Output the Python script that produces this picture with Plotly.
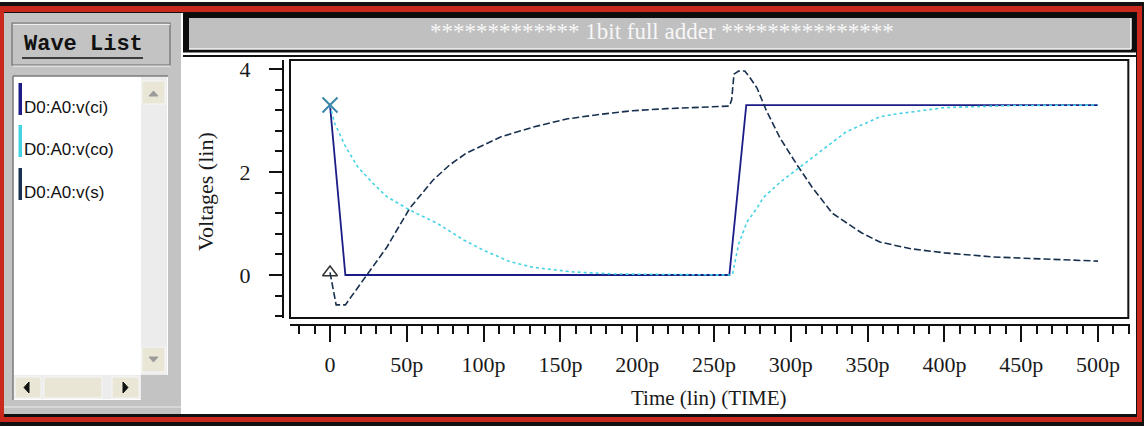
import plotly.graph_objects as go

W, H = 1144, 430
L, R, T, B = 283, 1130, 60, 325   # plot-area pixel box (axes anchored at left/bottom)

# ---------------- data (time in ps, voltage in V) ----------------
t_ci = [0, 10, 260, 271, 500]
v_ci = [3.3, 0.0, 0.0, 3.3, 3.3]

t_co = [0, 3, 10, 18, 28, 37, 52, 70, 87, 100, 117, 132, 158, 185, 220, 262,
        266, 271.5, 278, 282, 293, 304, 325, 336, 358, 367, 400, 443, 500]
v_co = [3.3, 2.95, 2.5, 2.1, 1.78, 1.52, 1.26, 1.0, 0.68, 0.48, 0.26, 0.15, 0.06, 0.02, 0.01, 0.0,
        0.6, 1.03, 1.3, 1.5, 1.8, 2.05, 2.52, 2.78, 3.07, 3.12, 3.25, 3.29, 3.3]

t_s = [0, 4, 10, 17, 24, 37, 52, 67, 78, 89, 111, 132, 154, 176, 197, 219, 241, 260,
       261.5, 263, 266, 270, 273, 278, 284, 293, 304, 314, 327, 346, 358, 378, 400, 432, 465, 500]
v_s = [0.05, -0.58, -0.58, -0.3, 0.0, 0.54, 1.3, 1.84, 2.14, 2.37, 2.68, 2.87, 3.03, 3.12, 3.19, 3.23, 3.26, 3.28,
       3.4, 3.9, 3.96, 3.96, 3.85, 3.63, 3.2, 2.66, 2.14, 1.7, 1.2, 0.82, 0.64, 0.51, 0.43, 0.35, 0.31, 0.27]

series_names = ["D0:A0:v(ci)", "D0:A0:v(co)", "D0:A0:v(s)"]
series_colors = ["#1c1c86", "#45d3e4", "#17304f"]

x_tickvals = [0, 50, 100, 150, 200, 250, 300, 350, 400, 450, 500]
x_ticktext = ["0", "50p", "100p", "150p", "200p", "250p", "300p", "350p", "400p", "450p", "500p"]
y_tickvals = [0, 2, 4]
y_ticktext = ["0", "2", "4"]

title_text = "************* 1bit full adder ***************"
x_title = "Time (lin) (TIME)"
y_title = "Voltages (lin)"
panel_title = "Wave List"

# ---------------- helpers: pixel -> paper ----------------
def px(x):
    return (x - L) / (R - L)

def py(y):
    return (B - y) / (B - T)

shapes = []

def rect(x0, y0, x1, y1, fill=None, line=None, lw=0):
    shapes.append(dict(type="rect", xref="paper", yref="paper", layer="below",
                       x0=px(x0), x1=px(x1), y0=py(y1), y1=py(y0),
                       fillcolor=fill if fill else "rgba(0,0,0,0)",
                       line=dict(color=line if line else "rgba(0,0,0,0)", width=lw)))

def hline(x0, x1, y, color, lw=1):
    shapes.append(dict(type="line", xref="paper", yref="paper", layer="below",
                       x0=px(x0), x1=px(x1), y0=py(y), y1=py(y),
                       line=dict(color=color, width=lw)))

def vline(x, y0, y1, color, lw=1):
    shapes.append(dict(type="line", xref="paper", yref="paper", layer="below",
                       x0=px(x), x1=px(x), y0=py(y0), y1=py(y1),
                       line=dict(color=color, width=lw)))

def tri(pts, fill):
    p = "M " + " L ".join(f"{px(a)},{py(b)}" for a, b in pts) + " Z"
    shapes.append(dict(type="path", xref="paper", yref="paper", layer="below",
                       path=p, fillcolor=fill, line=dict(color=fill, width=1)))

# outer frame
rect(0, 2, 1144, 426, fill="#111111")
rect(0, 6, 1142, 422, fill="#c9281d")
rect(4, 12, 1137, 417, fill="#111111")
# left panel
rect(4, 13, 181, 414, fill="#c3c3c3")
hline(4, 181, 407, "#ececec", 1)
# right white region
rect(181, 13, 1136, 414, fill="#ffffff")
# title box
rect(183, 13, 1136, 52.5, fill="#0d0d0d")
rect(189, 18, 1131, 49, fill="#c0c0c0")
hline(189, 1131, 49, "#f4f4f4", 1.5)
vline(1131, 18, 49, "#f4f4f4", 1.5)
hline(183, 1136, 56, "#111111", 2)

# Wave List header groove
rect(12, 23, 170, 65, line="#6e6e6e", lw=1.2)
hline(13, 170, 24.5, "#efefef", 1)
hline(13, 170, 66.2, "#efefef", 1)
hline(22, 143, 58, "#111111", 1.6)

# list box
rect(13, 76, 168, 400, fill="#ffffff")
vline(13, 76, 400, "#7a7a7a", 1.5)
hline(13, 168, 76, "#7a7a7a", 1.5)
rect(141, 77, 167, 375, fill="#ececec")
rect(142, 81, 165, 104, fill="#e9e6d6", line="#f7f7f7", lw=1)
tri([(149, 96), (158, 96), (153.5, 91)], "#9a9a9a")
rect(142, 347, 165, 372, fill="#e9e6d6", line="#f7f7f7", lw=1)
tri([(149, 357), (158, 357), (153.5, 362)], "#9a9a9a")
rect(14, 375, 141, 399, fill="#ececec")
rect(15, 377, 41, 398, fill="#e9e6d6", line="#f7f7f7", lw=1)
tri([(29, 382), (29, 393), (24, 387.5)], "#111111")
rect(44, 377, 102, 398, fill="#e9e6d6", line="#f7f7f7", lw=1)
rect(112, 377, 139, 398, fill="#e9e6d6", line="#f7f7f7", lw=1)
tri([(123, 382), (123, 393), (128, 387.5)], "#111111")
rect(141, 375, 168, 400, fill="#c3c3c3")

# legend swatches
sw_y = [(83, 115), (125, 157), (168, 200)]
for (a, b), c in zip(sw_y, series_colors):
    rect(18.5, a, 22, b, fill=c)

# plot box
shapes.append(dict(type="rect", xref="x domain", yref="y domain", x0=0, x1=0.998, y0=0, y1=1,
                   line=dict(color="#111111", width=2), fillcolor="rgba(0,0,0,0)", layer="below"))

annotations = []

def text(x, y, s, size, color="#111111", family="Liberation Serif", xanchor="center", angle=0, bold=False):
    annotations.append(dict(x=px(x), y=py(y), xref="paper", yref="paper", text=("<b>%s</b>" % s) if bold else s,
                            showarrow=False, xanchor=xanchor, yanchor="middle", textangle=angle,
                            font=dict(family=family, size=size, color=color)))

text(662, 31, title_text, 23, color="#f7f7f7")
text(83, 44, panel_title, 22, family="Liberation Mono", bold=True)
for (a, b), name in zip(sw_y, series_names):
    text(22, b - 8, name, 17, family="Liberation Sans", xanchor="left")
text(709, 398, x_title, 21, color="#1a1a1a")
text(205, 192, y_title, 22, color="#1a1a1a", angle=-90)

fig = go.Figure()
fig.add_trace(go.Scatter(x=t_ci, y=v_ci, mode="lines", line=dict(color=series_colors[0], width=1.8),
                         name=series_names[0], showlegend=False))
fig.add_trace(go.Scatter(x=t_s, y=v_s, mode="lines", line=dict(color=series_colors[2], width=1.6, dash="7px,3px"),
                         name=series_names[2], showlegend=False))
fig.add_trace(go.Scatter(x=t_co, y=v_co, mode="lines", line=dict(color=series_colors[1], width=1.6, dash="3px,3px"),
                         name=series_names[1], showlegend=False))
fig.add_trace(go.Scatter(x=[t_co[0]], y=[v_co[0]], mode="markers", showlegend=False,
                         marker=dict(symbol="x-thin-open", size=15, color="#3a86a6",
                                     line=dict(color="#3a86a6", width=2))))
fig.add_trace(go.Scatter(x=[t_s[0]], y=[v_s[0]], mode="markers", showlegend=False,
                         marker=dict(symbol="triangle-up-open", size=13, color="#333333",
                                     line=dict(color="#333333", width=1.5))))

tick_font = dict(family="Liberation Serif", size=22, color="#1a1a1a")
fig.update_layout(
    width=W, height=H, autosize=False,
    margin=dict(l=L, r=W - R, t=T, b=H - B, pad=0),
    paper_bgcolor="#ffffff", plot_bgcolor="rgba(0,0,0,0)",
    shapes=shapes, annotations=annotations, showlegend=False,
    xaxis=dict(domain=[(290 - L) / (R - L), 1], anchor="free", position=0,
               range=[(290 - 330) / 1.536, (R - 330) / 1.536],
               showline=True, linecolor="#111111", linewidth=1.6, mirror=False,
               showgrid=False, zeroline=False,
               ticks="outside", ticklen=16, tickwidth=1.5, tickcolor="#111111",
               tickmode="array", tickvals=x_tickvals, ticktext=x_ticktext,
               ticklabelstandoff=4, tickfont=tick_font,
               minor=dict(ticks="outside", ticklen=8, tickwidth=1.5, tickcolor="#111111",
                          tickmode="linear", tick0=0, dtick=10, showgrid=False)),
    yaxis=dict(domain=[(B - 318) / (B - T), 1], anchor="free", position=0,
               range=[(275 - 318) / 51.5, (275 - 60) / 51.5],
               showline=True, linecolor="#111111", linewidth=2, mirror=False,
               showgrid=False, zeroline=False,
               ticks="outside", ticklen=13, tickwidth=1.5, tickcolor="#111111",
               tickmode="array", tickvals=y_tickvals, ticktext=y_ticktext,
               ticklabelstandoff=14, tickfont=tick_font,
               minor=dict(ticks="outside", ticklen=7, tickwidth=1.5, tickcolor="#111111",
                          tickmode="linear", tick0=0, dtick=0.4, showgrid=False)),
)

fig.write_html("out.html")
